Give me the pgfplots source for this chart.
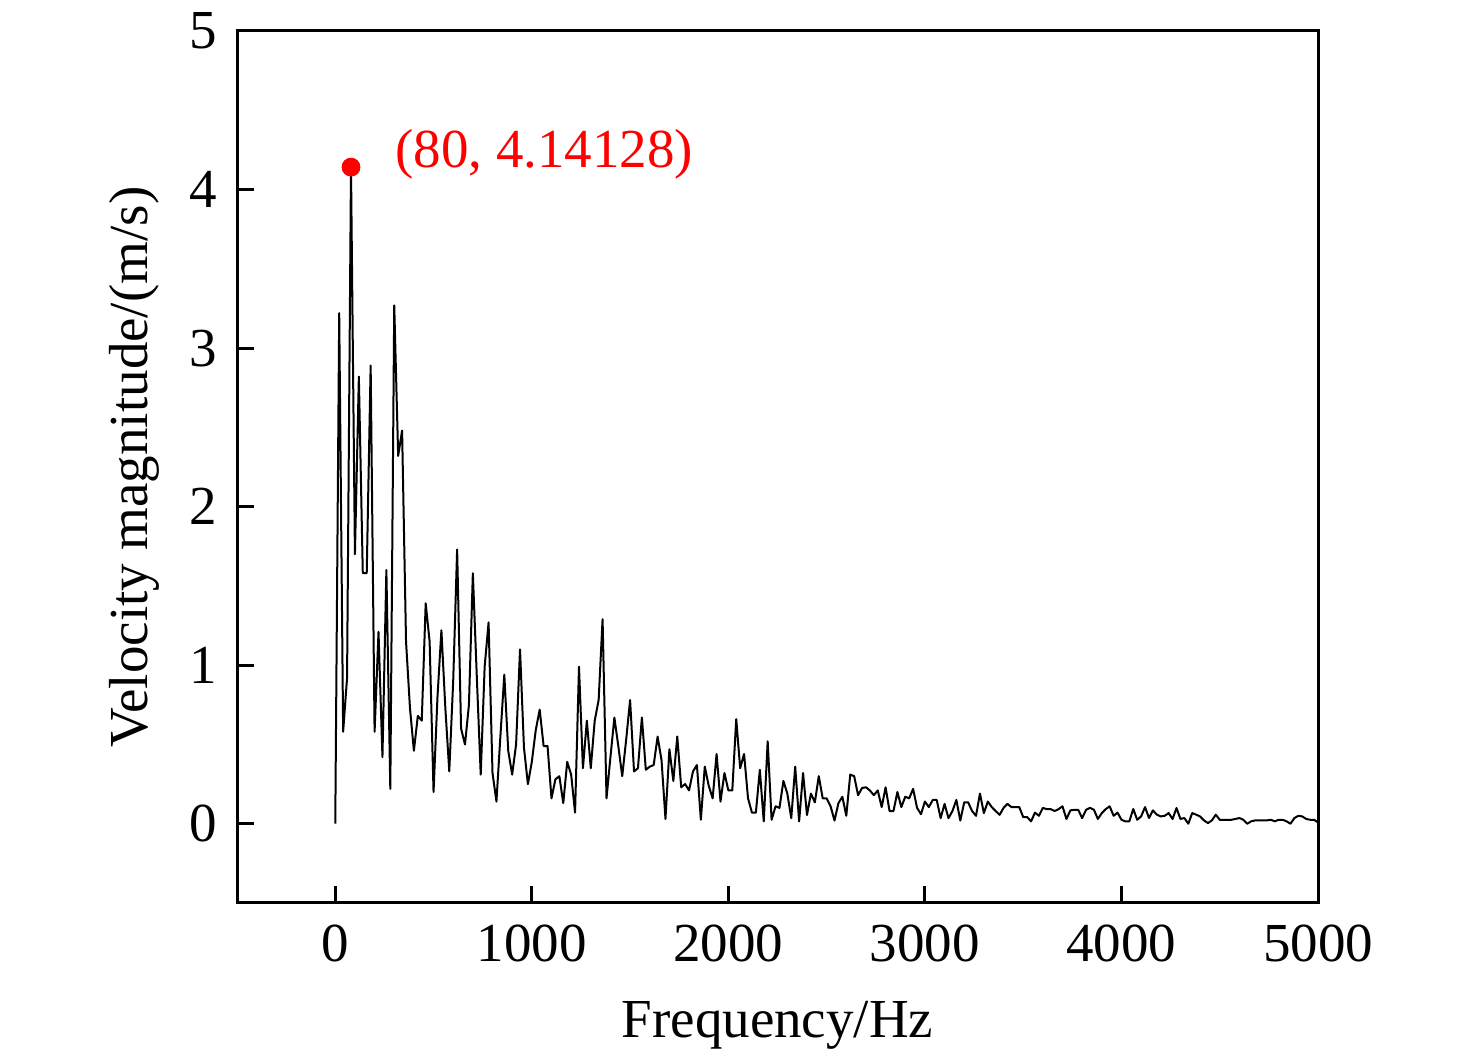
\documentclass[border=0pt]{standalone}
\usepackage{fontspec}
\setmainfont{Liberation Serif}
\usepackage{pgfplots}
\pgfplotsset{compat=1.18}
\begin{document}
\begin{tikzpicture}
\useasboundingbox (-118.5pt,-77.5pt) rectangle (619.5pt,451.5pt);
\begin{axis}[
  at={(0,0)}, anchor=south west,
  scale only axis,
  width=540.5pt, height=436pt,
  xmin=-500, xmax=5000, ymin=-0.5, ymax=5,
  xtick={0,1000,2000,3000,4000,5000},
  ytick={0,1,2,3,4,5},
  tick align=inside,
  xtick pos=bottom, ytick pos=left,
  major tick length=8.5pt,
  axis line style={line width=1.5pt},
  every tick/.style={black, line width=1.5pt},
  /pgf/number format/assume math mode=true,
  /pgf/number format/set thousands separator={},
  tick label style={font=\fontsize{27.5}{33}\selectfont},
  xticklabel style={yshift=-7.5pt},
  yticklabel style={xshift=-6.5pt},
  label style={font=\fontsize{27.5}{33}\selectfont},
  xlabel={Frequency/Hz},
  ylabel={Velocity magnitude/(m/s)},
  xlabel style={at={(axis description cs:0.5,0)}, anchor=center, yshift=-61pt},
  ylabel style={at={(axis description cs:0,0.5)}, anchor=center, rotate=0, yshift=51.5pt},
]
\addplot[black, line width=1pt, line join=round, mark=none] coordinates {
(0,0) (20,3.22) (40,0.58) (60,0.92) (80,4.14128) (100,1.70) (120,2.82) (140,1.58) (160,1.58) (180,2.89)
(200,0.58) (220,1.21) (240,0.42) (260,1.60) (280,0.22) (300,3.27) (320,2.32) (340,2.48) (360,1.15) (380,0.73)
(400,0.46) (420,0.68) (440,0.65) (460,1.39) (480,1.15) (500,0.20) (520,0.80) (540,1.22) (560,0.73) (580,0.33)
(600,0.90) (620,1.73) (640,0.60) (660,0.50) (680,0.75) (700,1.58) (720,0.93) (740,0.31) (760,0.99) (780,1.27)
(800,0.32) (820,0.14) (840,0.55) (860,0.94) (880,0.46) (900,0.31) (920,0.50) (940,1.10) (960,0.48) (980,0.25)
(1000,0.39) (1020,0.59) (1040,0.72) (1060,0.49) (1080,0.49) (1100,0.16) (1120,0.28) (1140,0.30) (1160,0.13) (1180,0.39)
(1200,0.31) (1220,0.07) (1240,0.99) (1260,0.35) (1280,0.65) (1300,0.35) (1320,0.65) (1340,0.78) (1360,1.29) (1380,0.16)
(1400,0.42) (1420,0.67) (1440,0.49) (1460,0.30) (1480,0.53) (1500,0.78) (1520,0.33) (1540,0.35) (1560,0.67) (1580,0.34)
(1600,0.36) (1620,0.37) (1640,0.55) (1660,0.40) (1680,0.03) (1700,0.47) (1720,0.27) (1740,0.55) (1760,0.23) (1780,0.25)
(1800,0.21) (1820,0.33) (1840,0.37) (1860,0.025) (1880,0.36) (1900,0.24) (1920,0.16) (1940,0.44) (1960,0.14) (1980,0.32)
(2000,0.21) (2020,0.21) (2040,0.66) (2060,0.35) (2080,0.44) (2100,0.16) (2120,0.07) (2140,0.07) (2160,0.34) (2180,0.015)
(2200,0.52) (2220,0.025) (2240,0.11) (2260,0.10) (2280,0.27) (2300,0.19) (2320,0.035) (2340,0.36) (2360,0.015) (2380,0.32)
(2400,0.055) (2420,0.19) (2440,0.135) (2460,0.30) (2480,0.16) (2500,0.16) (2520,0.11) (2540,0.02) (2560,0.13) (2580,0.17)
(2600,0.05) (2620,0.31) (2640,0.30) (2660,0.18) (2680,0.225) (2700,0.23) (2720,0.21) (2740,0.18) (2760,0.21) (2780,0.105)
(2800,0.23) (2820,0.08) (2840,0.08) (2860,0.20) (2880,0.105) (2900,0.17) (2920,0.16) (2940,0.22) (2960,0.10) (2980,0.06)
(3000,0.14) (3020,0.105) (3040,0.15) (3060,0.15) (3080,0.035) (3100,0.125) (3120,0.035) (3140,0.08) (3160,0.15) (3180,0.02)
(3200,0.135) (3220,0.135) (3240,0.08) (3260,0.05) (3280,0.19) (3300,0.067) (3320,0.14) (3340,0.105) (3360,0.08) (3380,0.056)
(3400,0.10) (3420,0.125) (3440,0.105) (3460,0.105) (3480,0.105) (3500,0.042) (3520,0.042) (3540,0.015) (3560,0.07) (3580,0.05)
(3600,0.10) (3620,0.092) (3640,0.092) (3660,0.08) (3680,0.092) (3700,0.11) (3720,0.03) (3740,0.084) (3760,0.088) (3780,0.088)
(3800,0.035) (3820,0.088) (3840,0.10) (3860,0.088) (3880,0.03) (3900,0.067) (3920,0.092) (3940,0.11) (3960,0.05) (3980,0.07)
(4000,0.025) (4020,0.015) (4040,0.015) (4060,0.093) (4080,0.025) (4100,0.046) (4120,0.105) (4140,0.036) (4160,0.084) (4180,0.057)
(4200,0.046) (4220,0.05) (4240,0.067) (4260,0.03) (4280,0.099) (4300,0.03) (4320,0.036) (4340,0.0) (4360,0.067) (4380,0.057)
(4400,0.046) (4420,0.021) (4440,0.004) (4460,0.021) (4480,0.057) (4500,0.025) (4520,0.025) (4540,0.025) (4560,0.025) (4580,0.03)
(4600,0.036) (4620,0.025) (4640,0.0) (4660,0.015) (4680,0.021) (4700,0.021) (4720,0.021) (4740,0.021) (4760,0.025) (4780,0.015)
(4800,0.025) (4820,0.025) (4840,0.015) (4860,0.0) (4880,0.036) (4900,0.05) (4920,0.046) (4940,0.03) (4960,0.025) (4980,0.025)
(5000,0.008)
};
\addplot[only marks, mark=*, red, mark size=4.5pt] coordinates {(80,4.14128)};
\node[red, anchor=west, inner sep=0pt, xshift=22pt, yshift=6.5pt, font=\fontsize{27.5}{33}\selectfont] at (axis cs:80,4.14128) {(80, 4.14128)};
\end{axis}
\end{tikzpicture}
\end{document}
